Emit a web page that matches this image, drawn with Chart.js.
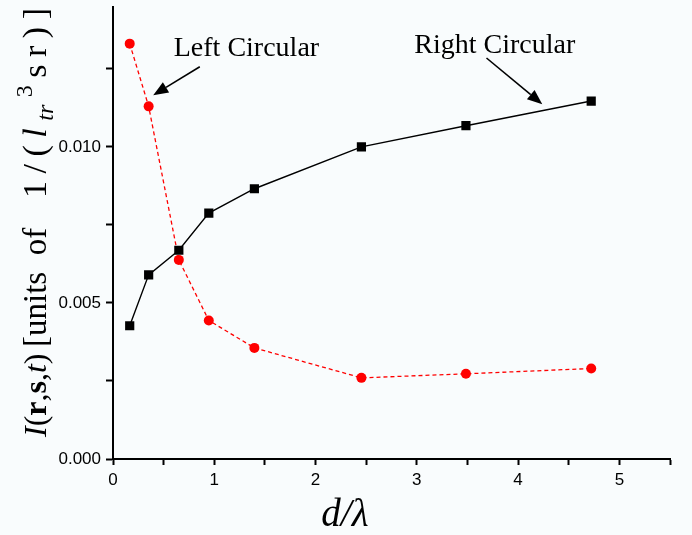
<!DOCTYPE html>
<html>
<head>
<meta charset="utf-8">
<script src="https://cdn.jsdelivr.net/npm/chart.js@4/dist/chart.umd.min.js"></script>
<style>
  html, body { margin: 0; padding: 0; background: #f9fcfd; }
  #wrap { width: 692px; height: 535px; }
</style>
</head>
<body>
<div id="wrap"><canvas id="intensityChart" width="692" height="535"></canvas></div>
<script>
// slab thickness in wavelengths
const dOverLambda = [0.165, 0.352, 0.65, 0.946, 1.396, 2.453, 3.485, 4.722];
// intensity, units of 1/(l_tr^3 sr)
const rightCircular = [0.00427, 0.00590, 0.00669, 0.00788, 0.00866, 0.01000, 0.01068, 0.01147];
const leftCircular = [0.01331, 0.01130, 0.00638, 0.00444, 0.00356, 0.00260, 0.00273, 0.00290];

const xRange = [0, 5.5];
const yRange = [0, 0.0145];
const xStep = 0.5, xLabelStep = 1;
const yStep = 0.0025, yLabelStep = 0.005;

const serif = '"Liberation Serif", "Times New Roman", serif';
const sans = '"Liberation Sans", Arial, sans-serif';

// callouts, anchored in data units
const callouts = [
    { text: 'Left Circular', at: [0.60, 0.01292], from: [0.857, 0.01257], to: [0.397, 0.01166] },
    { text: 'Right Circular', at: [2.975, 0.01300], from: [3.688, 0.01285], to: [4.239, 0.01137] }
];

const isMultiple = (v, step) => Math.abs(v / step - Math.round(v / step)) < 1e-6;

function arrow(ctx, x1, y1, x2, y2) {
    const ang = Math.atan2(y2 - y1, x2 - x1);
    const len = 15, half = 6;
    const bx = x2 - len * Math.cos(ang), by = y2 - len * Math.sin(ang);
    ctx.beginPath();
    ctx.moveTo(x1, y1);
    ctx.lineTo(bx, by);
    ctx.lineWidth = 1.6;
    ctx.strokeStyle = '#000';
    ctx.stroke();
    ctx.beginPath();
    ctx.moveTo(x2, y2);
    ctx.lineTo(bx + half * Math.sin(ang), by - half * Math.cos(ang));
    ctx.lineTo(bx - half * Math.sin(ang), by + half * Math.cos(ang));
    ctx.closePath();
    ctx.fillStyle = '#000';
    ctx.fill();
}

// y title: I(r,s,t)  [units of   1/(l_tr^3 sr)]
// groups read upward from `from`; a group with `to` is spaced out to reach it (px from top)
const yTitleGroups = [
    { from: 437, size: 32, runs: [
        { t: 'I', style: 'italic' }, { t: '(' }, { t: 'r', style: 'bold' }, { t: ',' },
        { t: 's', style: 'bold' }, { t: ',' }, { t: 't', style: 'italic' }, { t: ')' }] },
    { from: 347, size: 33, runs: [{ t: '[units\u2002of' }] },
    { from: 198, to: 8, size: 34, runs: [
        { t: '1/(' }, { t: 'l', style: 'italic' },
        { t: 'tr', style: 'italic', scale: 0.7, dy: 0.2, keep: true },
        { t: '3', scale: 0.7, dy: -0.42 }, { t: 'sr)]' }] }
];

function drawYTitle(ctx, baselineX) {
    ctx.save();
    ctx.fillStyle = '#000';
    ctx.textBaseline = 'alphabetic';
    ctx.textAlign = 'left';
    yTitleGroups.forEach(g => {
        const fontOf = r => (r.style || 'normal') + ' ' + Math.round(g.size * (r.scale || 1)) + 'px ' + serif;
        const glyphs = [];
        g.runs.forEach(r => {
            ctx.font = fontOf(r);
            const parts = (g.to === undefined || r.keep) ? [r.t] : Array.from(r.t);
            parts.forEach(p => glyphs.push({ p, font: ctx.font, dy: (r.dy || 0) * g.size, w: ctx.measureText(p).width }));
        });
        const natural = glyphs.reduce((s, q) => s + q.w, 0);
        const extra = g.to === undefined ? 0 : (g.from - g.to - natural) / Math.max(1, glyphs.length - 1);
        ctx.save();
        ctx.translate(baselineX, g.from);
        ctx.rotate(-Math.PI / 2);
        let x = 0;
        glyphs.forEach(q => {
            ctx.font = q.font;
            ctx.fillText(q.p, x, q.dy);
            x += q.w + extra;
        });
        ctx.restore();
    });
    ctx.restore();
}

const annotate = {
    id: 'annotate',
    afterDatasetsDraw(chart) {
        const { ctx, scales: { x, y } } = chart;
        ctx.save();
        ctx.fillStyle = '#000';
        ctx.font = '28px ' + serif;
        ctx.textBaseline = 'alphabetic';
        callouts.forEach(c => {
            ctx.textAlign = 'left';
            ctx.fillText(c.text, x.getPixelForValue(c.at[0]), y.getPixelForValue(c.at[1]));
            arrow(ctx, x.getPixelForValue(c.from[0]), y.getPixelForValue(c.from[1]),
                x.getPixelForValue(c.to[0]), y.getPixelForValue(c.to[1]));
        });

        // x title
        ctx.font = 'italic 39px ' + serif;
        ctx.textAlign = 'center';
        ctx.fillText('d/\u03bb', x.getPixelForValue(2.29), chart.height - 9);

        drawYTitle(ctx, 46);
        ctx.restore();
    }
};

new Chart(document.getElementById('intensityChart'), {
    type: 'line',
    data: {
        datasets: [{
            label: 'Right Circular',
            data: dOverLambda.map((d, i) => ({ x: d, y: rightCircular[i] })),
            borderColor: '#000',
            borderWidth: 1.4,
            pointStyle: 'rect',
            pointRadius: 6.5,
            pointBackgroundColor: '#000',
            pointBorderWidth: 0,
            order: 0
        }, {
            label: 'Left Circular',
            data: dOverLambda.map((d, i) => ({ x: d, y: leftCircular[i] })),
            borderColor: '#ff0000',
            borderWidth: 1.3,
            borderDash: [4, 3],
            pointStyle: 'circle',
            pointRadius: 5,
            pointBackgroundColor: '#ff0000',
            pointBorderWidth: 0,
            order: 1
        }]
    },
    options: {
        responsive: false,
        animation: false,
        layout: { padding: { top: 4, right: 22, left: 0, bottom: 0 } },
        plugins: { legend: { display: false }, tooltip: { enabled: false } },
        scales: {
            x: {
                type: 'linear',
                min: xRange[0],
                max: xRange[1],
                afterFit: s => { s.height = 76; s.paddingLeft = 0; s.paddingRight = 0; },
                border: { color: '#000', width: 2 },
                grid: { drawOnChartArea: false, tickLength: 6, tickColor: '#000', tickWidth: 2 },
                ticks: {
                    stepSize: xStep,
                    padding: 5,
                    maxRotation: 0,
                    autoSkip: false,
                    color: '#000',
                    font: { family: sans, size: 17 },
                    callback: v => isMultiple(v, xLabelStep) ? String(Math.round(v)) : ''
                }
            },
            y: {
                type: 'linear',
                min: yRange[0],
                max: yRange[1],
                afterFit: s => { s.width = 113; s.paddingTop = 0; s.paddingBottom = 0; },
                border: { color: '#000', width: 2 },
                grid: { drawOnChartArea: false, tickLength: 7, tickColor: '#000', tickWidth: 2 },
                ticks: {
                    stepSize: yStep,
                    includeBounds: false,
                    padding: 5,
                    autoSkip: false,
                    color: '#000',
                    font: { family: sans, size: 17 },
                    callback: v => isMultiple(v, yLabelStep) ? v.toFixed(3) : ''
                }
            }
        }
    },
    plugins: [annotate]
});
</script>
</body>
</html>
